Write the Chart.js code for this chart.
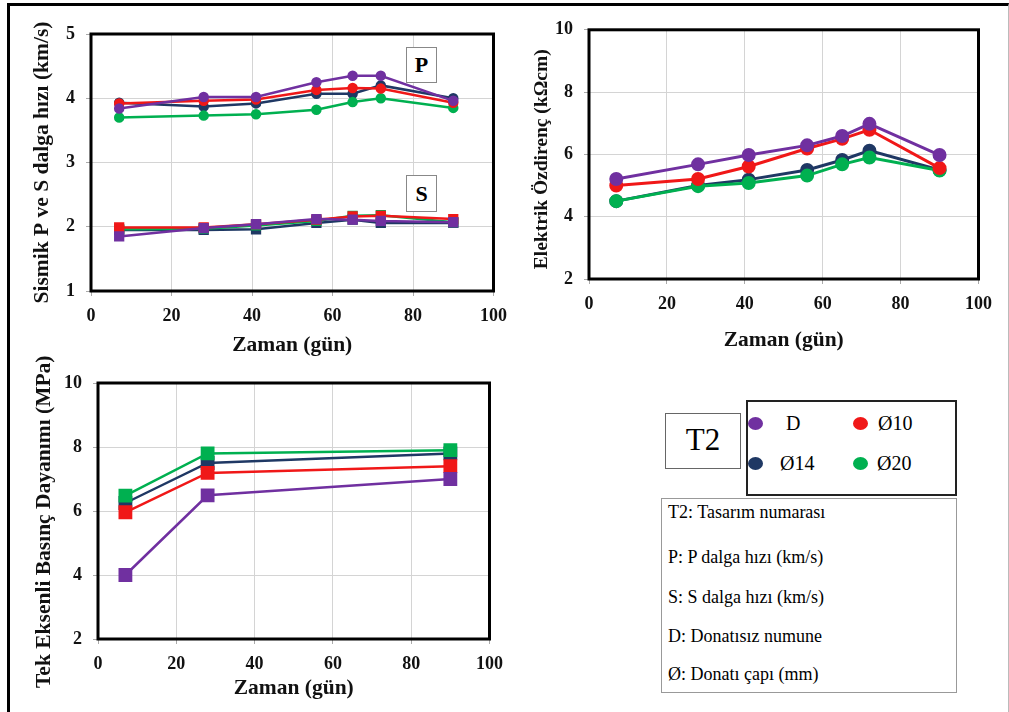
<!DOCTYPE html>
<html>
<head>
<meta charset="utf-8">
<script src="https://cdn.jsdelivr.net/npm/chart.js@4.4.1/dist/chart.umd.min.js"></script>
<style>
  body { margin: 0; background: #fff; font-family: 'Liberation Serif', Tinos, serif; }
  #page { position: relative; width: 1009px; height: 712px; overflow: hidden; }
  #frame { position: absolute; left: 7px; top: 3px; width: 998px; height: 720px; border-top: 3px solid #000; border-left: 3px solid #000; border-right: 1px solid #bbb; }
  canvas { position: absolute; }
  .tag { position: absolute; border: 1px solid #888; background: #fff; font-weight: bold; font-size: 22px; text-align: center; box-sizing: border-box; font-family: 'Liberation Serif', serif; }
  .box { position: absolute; box-sizing: border-box; background: #fff; font-family: 'Liberation Serif', serif; }
  .item { position: absolute; font-size: 20px; line-height: 22px; font-family: 'Liberation Serif', serif; }
  .dot { position: absolute; width: 15px; height: 13px; border-radius: 50%; }
  .info { position: absolute; left: 6px; font-size: 18px; line-height: 20px; white-space: nowrap; font-family: 'Liberation Serif', serif; }
</style>
</head>
<body>
<div id="page">
  <div id="frame"></div>
  <canvas id="c1" width="507" height="352" style="left:10px;top:8px"></canvas>
  <canvas id="c2" width="482" height="352" style="left:520px;top:8px"></canvas>
  <canvas id="c3" width="503" height="360" style="left:10px;top:352px"></canvas>
  <div class="tag" style="left:406px;top:47px;width:31px;height:36px;line-height:34px">P</div>
  <div class="tag" style="left:406px;top:175px;width:31px;height:37px;line-height:35px">S</div>
  <div class="box" style="left:665px;top:413px;width:76px;height:56px;border:1.5px solid #666;font-size:31px;text-align:center;line-height:52px">T2</div>
  <div class="box" id="legend" style="left:746px;top:400px;width:211px;height:96px;border:2px solid #222"></div>
  <div class="box" id="notes" style="left:661px;top:498px;width:296px;height:195px;border:1.5px solid #999"></div>
</div>
<script>
const days = [7, 28, 41, 56, 65, 72, 90];
const ucsDays = [7, 28, 90];
const seriesNames = ["D", "Ø10", "Ø14", "Ø20"];
const seriesColors = ["#7030A0", "#F01818", "#1F3864", "#00B050"];
const drawOrder = [0, 1, 3, 2];

// P and S wave velocity (km/s)
const pWaveD  = [3.84, 4.02, 4.02, 4.25, 4.35, 4.35, 3.96];
const pWave10 = [3.92, 3.96, 3.98, 4.13, 4.16, 4.15, 3.93];
const pWave14 = [3.93, 3.87, 3.92, 4.07, 4.07, 4.20, 4.00];
const pWave20 = [3.70, 3.73, 3.75, 3.82, 3.94, 4.00, 3.85];
const sWaveD  = [1.85, 1.98, 2.04, 2.12, 2.11, 2.09, 2.07];
const sWave10 = [1.99, 1.99, 2.04, 2.11, 2.16, 2.17, 2.12];
const sWave14 = [1.95, 1.95, 1.96, 2.06, 2.11, 2.06, 2.06];
const sWave20 = [1.96, 1.97, 2.02, 2.09, 2.17, 2.18, 2.07];

// electrical resistivity (kΩcm)
const resD  = [5.21, 5.68, 5.98, 6.29, 6.59, 6.98, 5.98];
const res10 = [5.00, 5.21, 5.61, 6.19, 6.50, 6.79, 5.56];
const res14 = [4.50, 5.00, 5.19, 5.50, 5.82, 6.12, 5.50];
const res20 = [4.50, 4.98, 5.08, 5.32, 5.68, 5.90, 5.48];

// uniaxial compressive strength (MPa)
const ucsD  = [4.00, 6.49, 7.00];
const ucs10 = [5.96, 7.19, 7.40];
const ucs14 = [6.25, 7.50, 7.80];
const ucs20 = [6.48, 7.80, 7.90];

const notes = ["T2: Tasarım numarası", "P: P dalga hızı (km/s)", "S: S dalga hızı (km/s)", "D: Donatısız numune", "Ø: Donatı çapı (mm)"];

Chart.defaults.font.family = "'Liberation Serif', Tinos, serif";
Chart.defaults.color = "#111";

const plotBorder = {
  id: "plotBorder",
  beforeDatasetsDraw(chart) {
    const a = chart.chartArea, g = chart.ctx;
    g.save();
    g.lineWidth = 3;
    g.strokeStyle = "#000";
    g.strokeRect(a.left, a.top, a.right - a.left, a.bottom - a.top);
    g.restore();
  }
};

function pts(xs, ys) {
  return xs.map((x, i) => ({ x: x, y: ys[i] }));
}

function series(xs, lists, style, radius, width) {
  return lists.map((ys, i) => ({
    label: seriesNames[i],
    data: pts(xs, ys),
    order: drawOrder[i],
    borderColor: seriesColors[i],
    backgroundColor: seriesColors[i],
    pointBackgroundColor: seriesColors[i],
    pointBorderColor: seriesColors[i],
    pointStyle: style,
    pointRadius: radius,
    borderWidth: width,
    tension: 0
  }));
}

function axes(o) {
  const grid = { color: "#d4d4d4", lineWidth: 1, tickLength: 5, tickColor: "#aaa" };
  return {
    x: {
      type: "linear", min: 0, max: 100,
      ticks: { stepSize: 20, padding: 10, font: { size: 18, weight: "bold" } },
      grid: grid, border: { display: false },
      title: { display: true, text: "Zaman (gün)", font: { size: 21.5, weight: "bold" }, padding: { top: 0, bottom: o.xpad } },
      afterFit(s) { s.height = o.xh; }
    },
    y: {
      type: "linear", min: o.ymin, max: o.ymax,
      ticks: { stepSize: o.step, padding: 11, font: { size: 18, weight: "bold" } },
      grid: grid, border: { display: false },
      title: { display: true, text: o.ytitle, font: { size: o.ysize, weight: "bold" }, padding: { top: o.ypad, bottom: 0 } },
      afterFit(s) { s.width = o.yw; }
    }
  };
}

function make(id, datasets, o) {
  new Chart(document.getElementById(id), {
    type: "line",
    data: { datasets: datasets },
    options: {
      responsive: false,
      animation: false,
      devicePixelRatio: 1,
      layout: { padding: { top: o.top, right: 20, bottom: 0, left: 0 } },
      plugins: { legend: { display: false }, tooltip: { enabled: false } },
      scales: axes(o)
    },
    plugins: [plotBorder]
  });
}

make("c1",
  series(days, [pWaveD, pWave10, pWave14, pWave20], "circle", 4, 2.5)
    .concat(series(days, [sWaveD, sWave10, sWave14, sWave20], "rect", 5.5, 2.5)),
  { top: 26, xh: 69, xpad: 2, yw: 81, ypad: 20, ymin: 1, ymax: 5, step: 1,
    ytitle: "Sismik P ve S dalga hızı (km/s)", ysize: 21.5 });

make("c2",
  series(days, [resD, res10, res14, res20], "circle", 5.5, 3),
  { top: 18, xh: 81, xpad: 7, yw: 69, ypad: 10, ymin: 2, ymax: 10, step: 2,
    ytitle: "Elektrik Özdirenç (kΩcm)  ", ysize: 19.5 });

make("c3",
  series(ucsDays, [ucsD, ucs10, ucs14, ucs20], "rect", 8, 2.5),
  { top: 31, xh: 73, xpad: 11, yw: 88, ypad: 22, ymin: 2, ymax: 10, step: 2,
    ytitle: "Tek Eksenli Basınç Dayanımı (MPa)    ", ysize: 21.5 });

// legend entries built from the series arrays
const legend = document.getElementById("legend");
const dotSpots = [[0, 15], [105, 15], [0, 55], [105, 55]];
const textSpots = [[38, 10], [130, 10], [32, 50], [129, 50]];
seriesNames.forEach((name, i) => {
  const dot = document.createElement("div");
  dot.className = "dot";
  dot.style.background = seriesColors[i];
  dot.style.left = dotSpots[i][0] + "px";
  dot.style.top = dotSpots[i][1] + "px";
  legend.appendChild(dot);
  const t = document.createElement("div");
  t.className = "item";
  t.textContent = name;
  t.style.left = textSpots[i][0] + "px";
  t.style.top = textSpots[i][1] + "px";
  legend.appendChild(t);
});

const box = document.getElementById("notes");
const noteTops = [3, 48, 88, 127, 165];
notes.forEach((line, i) => {
  const t = document.createElement("div");
  t.className = "info";
  t.textContent = line;
  t.style.top = noteTops[i] + "px";
  box.appendChild(t);
});
</script>
</body>
</html>
